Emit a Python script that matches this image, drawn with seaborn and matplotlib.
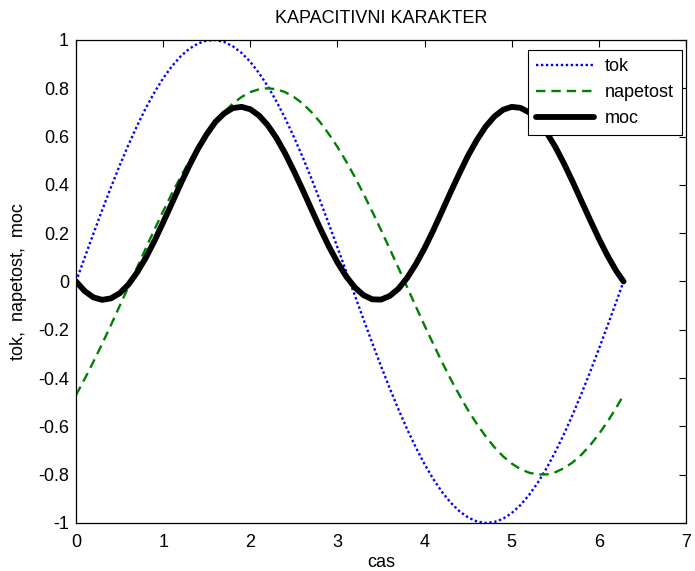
import matplotlib
matplotlib.use("Agg")
import matplotlib.pyplot as plt
import seaborn as sns
import pandas as pd

# Time samples (0 .. 2*pi)
cas = [0.0, 0.1, 0.2, 0.3, 0.4, 0.5, 0.6, 0.7, 0.8, 0.9,
       1.0, 1.1, 1.2, 1.3, 1.4, 1.5, 1.6, 1.7, 1.8, 1.9,
       2.0, 2.1, 2.2, 2.3, 2.4, 2.5, 2.6, 2.7, 2.8, 2.9,
       3.0, 3.1, 3.2, 3.3, 3.4, 3.5, 3.6, 3.7, 3.8, 3.9,
       4.0, 4.1, 4.2, 4.3, 4.4, 4.5, 4.6, 4.7, 4.8, 4.9,
       5.0, 5.1, 5.2, 5.3, 5.4, 5.5, 5.6, 5.7, 5.8, 5.9,
       6.0, 6.1, 6.2, 6.283]

tok = [0.000, 0.0998, 0.1987, 0.2955, 0.3894, 0.4794, 0.5646, 0.6442, 0.7174, 0.7833,
       0.8415, 0.8912, 0.9320, 0.9636, 0.9854, 0.9975, 0.9996, 0.9917, 0.9738, 0.9463,
       0.9093, 0.8632, 0.8085, 0.7457, 0.6755, 0.5985, 0.5155, 0.4274, 0.3350, 0.2392,
       0.1411, 0.0416, -0.0584, -0.1577, -0.2555, -0.3508, -0.4425, -0.5298, -0.6119, -0.6878,
       -0.7568, -0.8183, -0.8716, -0.9162, -0.9516, -0.9775, -0.9937, -0.9999, -0.9962, -0.9825,
       -0.9589, -0.9258, -0.8835, -0.8323, -0.7728, -0.7055, -0.6313, -0.5507, -0.4646, -0.3739,
       -0.2794, -0.1822, -0.0831, 0.000]

napetost = [-0.470, -0.403, -0.332, -0.258, -0.181, -0.102, -0.023, 0.057, 0.137, 0.215,
            0.291, 0.364, 0.433, 0.498, 0.558, 0.612, 0.661, 0.702, 0.737, 0.764,
            0.784, 0.796, 0.800, 0.796, 0.784, 0.764, 0.737, 0.702, 0.660, 0.611,
            0.557, 0.497, 0.432, 0.362, 0.289, 0.213, 0.135, 0.056, -0.024, -0.104,
            -0.183, -0.259, -0.334, -0.405, -0.471, -0.534, -0.590, -0.641, -0.686, -0.724,
            -0.754, -0.777, -0.792, -0.799, -0.799, -0.790, -0.773, -0.749, -0.717, -0.678,
            -0.632, -0.580, -0.522, -0.470]

moc = [0.000, -0.040, -0.066, -0.076, -0.070, -0.049, -0.013, 0.037, 0.098, 0.168,
       0.245, 0.324, 0.404, 0.480, 0.550, 0.610, 0.661, 0.696, 0.718, 0.723,
       0.713, 0.687, 0.647, 0.594, 0.530, 0.457, 0.380, 0.300, 0.221, 0.146,
       0.079, 0.021, -0.025, -0.057, -0.074, -0.075, -0.060, -0.030, 0.015, 0.072,
       0.138, 0.212, 0.291, 0.371, 0.448, 0.522, 0.586, 0.641, 0.683, 0.711,
       0.723, 0.719, 0.700, 0.665, 0.617, 0.557, 0.488, 0.412, 0.333, 0.254,
       0.177, 0.106, 0.043, 0.000]

x_ticks = [0, 1, 2, 3, 4, 5, 6, 7]
y_ticks = [-1, -0.8, -0.6, -0.4, -0.2, 0, 0.2, 0.4, 0.6, 0.8, 1]
y_labels = ["-1", "-0.8", "-0.6", "-0.4", "-0.2", "0", "0.2", "0.4", "0.6", "0.8", "1"]

sns.set_style("white")
plt.rcParams["font.family"] = ["Liberation Sans", "DejaVu Sans"]
plt.rcParams["text.color"] = "black"
plt.rcParams["axes.labelcolor"] = "black"
FS = 13

df = pd.DataFrame({"cas": cas, "tok": tok, "napetost": napetost, "moc": moc})

fig = plt.figure(figsize=(6.95, 5.71), dpi=100)
ax = fig.add_axes([0.1094, 0.0841, 0.8777, 0.8459])

sns.lineplot(data=df, x="cas", y="tok", ax=ax, color="#0000ff", lw=1.7,
             linestyle=(0, (1, 1.1)), label="tok", sort=False)
sns.lineplot(data=df, x="cas", y="napetost", ax=ax, color="#008000", lw=1.7,
             linestyle=(0, (4, 2.5)), label="napetost", sort=False)
sns.lineplot(data=df, x="cas", y="moc", ax=ax, color="black", lw=4.2,
             label="moc", sort=False)

ax.set_xlim(0, 7)
ax.set_ylim(-1, 1)
ax.set_xticks(x_ticks)
ax.set_yticks(y_ticks)
ax.set_yticklabels(y_labels)
ax.tick_params(direction="in", length=5, width=0.8, top=True, right=True,
               labelsize=FS, colors="black")
ax.tick_params(axis="x", pad=8)
ax.tick_params(axis="y", pad=5)
for sp in ax.spines.values():
    sp.set_visible(True)
    sp.set_color("black")
    sp.set_linewidth(0.9)

ax.set_title("KAPACITIVNI KARAKTER", fontsize=FS, pad=12, color="black")
ax.set_xlabel("cas", fontsize=FS, labelpad=2, color="black")
ax.set_ylabel("tok,  napetost,  moc", fontsize=FS, labelpad=8, color="black")

leg = ax.legend(loc="upper right", bbox_to_anchor=(0.9934, 0.979), borderaxespad=0,
                fancybox=False, framealpha=1, edgecolor="black", handlelength=3.2,
                fontsize=FS, labelspacing=0.5, borderpad=0.45, handletextpad=0.6)
leg.get_frame().set_linewidth(0.8)
for txt in leg.get_texts():
    txt.set_color("black")

fig.savefig("out.png", dpi=100)
